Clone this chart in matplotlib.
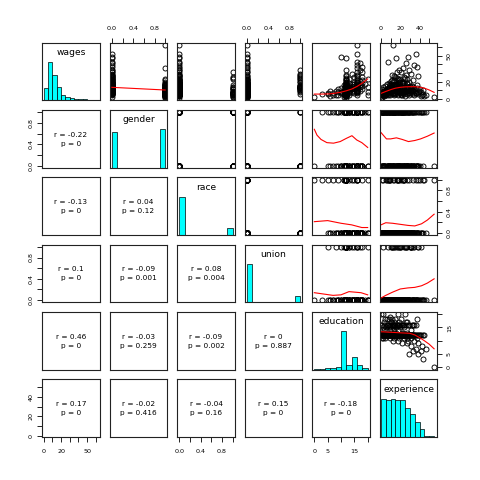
import numpy as np
import matplotlib
matplotlib.use("Agg")
import matplotlib.pyplot as plt

plt.rcParams['font.family'] = ['DejaVu Sans']

names = ["wages", "gender", "race", "union", "education", "experience"]

wages = [
    2.5, 6.0, 5.5, 7.0, 3.8, 8.5, 6.5, 4.2, 9.0, 5.0, 11.0, 7.5, 4.8, 8.0, 12.5, 48.0, 6.2,
    4.5, 7.8, 10.5, 6.0, 13.0, 5.5, 9.2, 15.5, 1.8, 8.8,
    1.0, 4.0, 5.5, 4.5, 6.0, 7.2, 3.8, 8.0, 5.0, 9.5, 6.8, 4.4, 7.5, 11.0,
    6.5, 8.2, 4.9, 10.5, 7.0, 12.0, 5.8, 9.0, 14.5, 6.3, 17.0, 8.6, 16.2, 7.7,
    9.5, 13.5, 6.8, 11.5, 8.5, 22.0, 7.2, 15.8, 10.0, 5.5, 28.0, 12.8, 4.6, 9.8,
    7.5, 12.2, 9.0, 16.5, 5.2, 13.8, 8.0, 19.5, 11.2, 6.6, 47.0, 10.8, 4.3, 14.2, 23.0,
    6.0, 10.2, 8.4, 14.0, 17.8, 7.3, 11.8, 5.9, 9.6, 24.0, 4.7, 12.5, 8.1, 16.0, 3.6, 19.0, 13.2,
    8.9, 12.7, 5.4, 18.5, 10.4, 7.6, 33.0, 9.2, 14.8, 6.4, 17.2, 4.1,
    9.9, 13.0, 7.1, 21.5, 5.6, 10.9, 8.3, 15.2, 4.9,
    6.9, 12.3, 26.5, 8.7, 11.6,
    7.9, 10.6, 3.4,
    6.5, 9.8, 12.0, 15.0, 8.4, 18.2, 11.3, 22.5, 4.6,
    10.8, 16.8, 7.4, 13.5, 28.5, 12.2,
    9.1, 14.4, 19.8, 11.9, 24.8, 6.8, 17.5,
    62.0, 8.2, 11.5, 13.7, 7.0, 8.9, 15.9, 12.6, 4.5, 43.0, 14.9, 18.9, 26.0, 9.4, 16.4,
    30.5, 13.1, 22.0, 7.8, 36.0, 17.9, 27.5, 14.1, 52.0, 19.2, 10.7, 38.5, 9.0, 23.6, 15.6,
    13.3, 20.5, 9.6, 33.5, 16.1, 41.0,
    14.6, 18.0, 25.5, 11.6, 31.5, 37.0, 21.8,
    17.0,
    4.9, 13.9, 23.2, 8.0,
]

experience = [
    55, 44, 38, 29, 41, 33, 36, 47, 31, 42, 27, 38, 22, 18, 34, 28, 12,
    2, 9, 24, 14, 31, 4, 19, 37, 1, 27,
    0, 1, 1, 2, 2, 3, 3, 3, 4, 4, 5, 5, 2, 1,
    6, 6, 7, 7, 8, 8, 9, 9, 10, 10, 6, 8, 9, 7,
    11, 11, 12, 12, 13, 13, 14, 14, 15, 15, 11, 12, 13, 14,
    16, 16, 17, 17, 18, 18, 19, 19, 20, 20, 16, 17, 18, 19, 20,
    21, 21, 22, 22, 23, 23, 24, 24, 25, 25, 21, 22, 23, 24, 25, 22, 24,
    26, 26, 27, 27, 28, 28, 29, 29, 30, 30, 27, 29,
    31, 31, 32, 33, 33, 34, 35, 32, 34,
    36, 37, 38, 39, 40,
    41, 43, 45,
    2, 7, 11, 16, 23, 22, 13, 27, 1,
    6, 18, 3, 9, 31, 14,
    5, 12, 20, 8, 24, 2, 16,
    12, 1, 3, 33, 0, 6, 19, 8, 9, 7, 11, 12, 13, 14, 15,
    17, 18, 19, 21, 23, 24, 26, 28, 36, 29, 32, 34, 22, 17, 10,
    27, 10, 3, 19, 13, 26,
    4, 8, 15, 6, 21, 37, 11,
    9,
    0, 2, 18, 25,
]

gender = [
    0, 1, 0, 1, 1, 0, 0, 1, 0, 1, 0, 1, 1, 0, 0, 0, 1,
    1, 0, 0, 1, 0, 0, 1, 0, 1, 1,
    1, 1, 0, 1, 0, 0, 1, 0, 1, 0, 1, 1, 0, 0,
    1, 0, 1, 0, 1, 0, 1, 0, 0, 1, 0, 1, 1, 0,
    1, 0, 1, 0, 1, 0, 1, 0, 1, 1, 0, 0, 1, 1,
    1, 0, 1, 0, 1, 0, 1, 0, 0, 1, 0, 1, 1, 0, 1,
    1, 0, 1, 0, 0, 1, 0, 1, 1, 0, 1, 0, 1, 0, 1, 1, 0,
    1, 0, 1, 0, 0, 1, 0, 1, 0, 1, 0, 1,
    1, 0, 1, 0, 1, 0, 1, 0, 1,
    1, 0, 0, 1, 0,
    1, 0, 1,
    1, 0, 1, 0, 1, 0, 1, 0, 1,
    1, 0, 1, 0, 0, 1,
    1, 0, 0, 1, 0, 1, 1,
    1, 1, 0, 1, 0, 1, 0, 1, 0, 0, 1, 0, 0, 1, 1,
    0, 1, 0, 1, 1, 1, 0, 1, 0, 0, 1, 0, 1, 0, 1,
    0, 0, 1, 0, 1, 0,
    1, 0, 0, 1, 0, 0, 1,
    1,
    1, 0, 0, 1,
]

race = [
    1, 1, 0, 1, 0, 0, 1, 0, 0, 0, 0, 1, 0, 0, 0, 0, 0,
    0, 1, 0, 0, 0, 0, 0, 0, 1, 0,
    0, 0, 0, 1, 0, 0, 0, 0, 0, 0, 1, 0, 0, 0,
    0, 0, 1, 0, 0, 0, 0, 0, 0, 0, 0, 1, 0, 0,
    0, 0, 0, 1, 0, 0, 0, 0, 0, 0, 0, 0, 1, 0,
    0, 0, 0, 0, 1, 0, 0, 0, 0, 0, 0, 0, 0, 1, 0,
    0, 0, 0, 0, 0, 1, 0, 0, 0, 0, 0, 0, 0, 1, 0, 0, 0,
    0, 0, 1, 0, 0, 0, 0, 0, 0, 0, 0, 0,
    0, 0, 0, 0, 1, 0, 0, 0, 0,
    0, 0, 0, 0, 1,
    0, 0, 1,
    0, 0, 0, 0, 1, 0, 0, 0, 0,
    0, 0, 0, 1, 0, 0,
    0, 0, 0, 0, 1, 0, 0,
    0, 0, 0, 0, 0, 0, 0, 1, 0, 0, 0, 0, 0, 0, 0,
    1, 0, 0, 1, 0, 0, 0, 0, 0, 0, 0, 0, 0, 1, 0,
    0, 0, 0, 0, 0, 0,
    0, 0, 0, 1, 0, 0, 0,
    0,
    0, 0, 1, 0,
]

union = [
    0, 0, 1, 0, 0, 0, 0, 0, 1, 0, 0, 0, 0, 0, 1, 0, 0,
    0, 0, 0, 0, 1, 0, 0, 0, 0, 0,
    0, 0, 0, 0, 0, 0, 0, 0, 0, 0, 0, 0, 0, 0,
    0, 0, 0, 1, 0, 0, 0, 0, 1, 0, 0, 0, 0, 0,
    0, 1, 0, 0, 0, 0, 0, 1, 0, 0, 0, 0, 0, 0,
    0, 0, 0, 1, 0, 0, 0, 0, 1, 0, 0, 0, 0, 0, 0,
    0, 1, 0, 0, 0, 0, 0, 0, 0, 1, 0, 0, 0, 0, 0, 0, 1,
    0, 1, 0, 0, 0, 0, 0, 0, 1, 0, 0, 0,
    0, 1, 0, 1, 0, 0, 0, 0, 0,
    0, 0, 1, 0, 0,
    1, 0, 0,
    0, 0, 1, 0, 0, 0, 0, 1, 0,
    0, 0, 0, 0, 1, 0,
    0, 0, 1, 0, 0, 0, 0,
    0, 0, 0, 0, 0, 0, 0, 0, 0, 0, 0, 1, 0, 0, 0,
    0, 1, 0, 0, 0, 0, 1, 0, 0, 0, 0, 0, 0, 0, 0,
    0, 0, 0, 1, 0, 0,
    0, 0, 1, 0, 0, 0, 0,
    0,
    0, 1, 0, 0,
]

education = [
    0, 3, 5, 5, 6, 6, 7, 7, 8, 8, 9, 9, 9, 10, 10, 10, 10,
    11, 11, 11, 11, 11, 11, 11, 11, 11, 11,
    12, 12, 12, 12, 12, 12, 12, 12, 12, 12, 12, 12, 12, 12,
    12, 12, 12, 12, 12, 12, 12, 12, 12, 12, 12, 12, 12, 12,
    12, 12, 12, 12, 12, 12, 12, 12, 12, 12, 12, 12, 12, 12,
    12, 12, 12, 12, 12, 12, 12, 12, 12, 12, 12, 12, 12, 12, 12,
    12, 12, 12, 12, 12, 12, 12, 12, 12, 12, 12, 12, 12, 12, 12, 12, 12,
    12, 12, 12, 12, 12, 12, 12, 12, 12, 12, 12, 12,
    12, 12, 12, 12, 12, 12, 12, 12, 12,
    12, 12, 12, 12, 12,
    12, 12, 12,
    13, 13, 13, 13, 13, 13, 13, 13, 13,
    14, 14, 14, 14, 14, 14,
    15, 15, 15, 15, 15, 15, 15,
    16, 16, 16, 16, 16, 16, 16, 16, 16, 16, 16, 16, 16, 16, 16,
    16, 16, 16, 16, 16, 16, 16, 16, 16, 16, 16, 16, 16, 16, 16,
    17, 17, 17, 17, 17, 17,
    18, 18, 18, 18, 18, 18, 18,
    19,
    20, 20, 20, 20,
]

# lower-panel statistics (row-major order over i>j)
r_values = [-0.22, -0.13, 0.04, 0.1, -0.09, 0.08, 0.46, -0.03, -0.09, 0,
            0.17, -0.02, -0.04, 0.15, -0.18]
p_values = [0, 0, 0.12, 0, 0.001, 0.004, 0, 0.259, 0.002, 0.887,
            0, 0.416, 0.16, 0, 0]

# smoothers (x = column variable, y = row variable)
smooth_wages_gender_x = [0, 1]
smooth_wages_gender_y = [13.3, 10.2]
smooth_wages_edu_x = [0, 3, 6, 8, 10, 12, 14, 16, 18, 20]
smooth_wages_edu_y = [5.5, 5.5, 5.8, 6.6, 7.7, 9.3, 11.3, 14.3, 18.2, 23.0]
smooth_wages_exp_x = [0, 5, 10, 15, 20, 25, 30, 35, 40, 45, 50, 55]
smooth_wages_exp_y = [6.3, 8.5, 10.6, 12.3, 13.3, 13.8, 14.0, 14.0, 13.5, 12.3, 10.2, 7.5]
smooth_gender_edu_x = [0, 1, 2.5, 4.7, 7.2, 9.7, 12, 14.1, 15.9, 17.8, 20]
smooth_gender_edu_y = [0.68, 0.57, 0.49, 0.43, 0.42, 0.45, 0.51, 0.56, 0.48, 0.43, 0.34]
smooth_gender_exp_x = [0, 5.7, 10, 16, 22, 28.5, 35, 41, 48, 55]
smooth_gender_exp_y = [0.62, 0.50, 0.50, 0.52, 0.49, 0.45, 0.47, 0.50, 0.55, 0.61]
smooth_race_edu_x = [0, 5, 10, 14, 17.8, 20]
smooth_race_edu_y = [0.21, 0.23, 0.18, 0.15, 0.10, 0.10]
smooth_race_exp_x = [0, 5, 12, 20, 28, 35, 42, 48, 55]
smooth_race_exp_y = [0.15, 0.19, 0.18, 0.16, 0.14, 0.13, 0.17, 0.24, 0.35]
smooth_union_edu_x = [0, 7, 10, 13, 17.5, 20]
smooth_union_edu_y = [0.14, 0.09, 0.10, 0.16, 0.14, 0.10]
smooth_union_exp_x = [0, 5, 12, 20, 28, 35, 42, 48, 55]
smooth_union_exp_y = [0.04, 0.09, 0.15, 0.21, 0.23, 0.24, 0.27, 0.32, 0.40]
smooth_edu_exp_x = [0, 10, 20, 30, 35, 40, 45, 50, 55]
smooth_edu_exp_y = [13.4, 13.2, 13.0, 12.8, 12.2, 11.2, 10.0, 8.7, 7.0]

smooths = {
    (0, 1): (smooth_wages_gender_x, smooth_wages_gender_y),
    (0, 4): (smooth_wages_edu_x, smooth_wages_edu_y),
    (0, 5): (smooth_wages_exp_x, smooth_wages_exp_y),
    (1, 4): (smooth_gender_edu_x, smooth_gender_edu_y),
    (1, 5): (smooth_gender_exp_x, smooth_gender_exp_y),
    (2, 4): (smooth_race_edu_x, smooth_race_edu_y),
    (2, 5): (smooth_race_exp_x, smooth_race_exp_y),
    (3, 4): (smooth_union_edu_x, smooth_union_edu_y),
    (3, 5): (smooth_union_exp_x, smooth_union_exp_y),
    (4, 5): (smooth_edu_exp_x, smooth_edu_exp_y),
}

data = {"wages": np.array(wages, float), "gender": np.array(gender, float),
        "race": np.array(race, float), "union": np.array(union, float),
        "education": np.array(education, float), "experience": np.array(experience, float)}
n = len(wages)
assert all(len(v) == n for v in data.values()), [len(v) for v in data.values()]

bin_lim = (-0.04, 1.04)
limits = {"wages": (-1.8, 64.7), "gender": bin_lim, "race": bin_lim, "union": bin_lim,
          "education": (-0.8, 20.8), "experience": (-1.3, 58.3)}
bin_ticks = [0, 0.2, 0.4, 0.6, 0.8, 1.0]
bin_labels = ["0.0", "", "0.4", "", "0.8", ""]
ticks = {"wages": ([0, 10, 20, 30, 40, 50, 60], ["0", "", "20", "", "", "50", ""]),
         "gender": (bin_ticks, bin_labels), "race": (bin_ticks, bin_labels),
         "union": (bin_ticks, bin_labels),
         "education": ([0, 5, 10, 15, 20], ["0", "5", "", "15", ""]),
         "experience": ([0, 10, 20, 30, 40, 50], ["0", "", "20", "", "40", ""])}
breaks = {"wages": np.arange(0, 66, 5), "gender": np.linspace(0, 1, 11),
          "race": np.linspace(0, 1, 11), "union": np.linspace(0, 1, 11),
          "education": np.arange(0, 21, 2), "experience": np.arange(0, 56, 5)}


def r_hist(x, br):
    counts = []
    for k in range(len(br) - 1):
        lo, hi = br[k], br[k + 1]
        if k == 0:
            c = np.sum((x >= lo - 1e-9) & (x <= hi + 1e-9))
        else:
            c = np.sum((x > lo + 1e-9) & (x <= hi + 1e-9))
        counts.append(c)
    return np.array(counts, float)


W = H = 480
fig = plt.figure(figsize=(4.8, 4.8), dpi=100)
left0, top0, px, py, size = 42.2, 42.8, 67.5, 67.3, 57.6
tick_kw = dict(length=3.4, width=0.6, labelsize=4.6, direction="out", color="black")

k_text = 0
for i in range(6):
    for j in range(6):
        l = left0 + j * px
        t = top0 + i * py
        ax = fig.add_axes([l / W, 1 - (t + size) / H, size / W, size / H])
        xn, yn = names[j], names[i]
        ax.set_xlim(limits[xn])
        if i == j:
            ax.set_ylim(0, 1.5)
        else:
            ax.set_ylim(limits[yn])
        ax.set_xticks([])
        ax.set_yticks([])
        for s in ax.spines.values():
            s.set_linewidth(0.8)
            s.set_color("#222222")
        if i == j:
            br = breaks[xn]
            c = r_hist(data[xn], br)
            hgt = c / c.max()
            ax.bar(br[:-1], hgt, width=np.diff(br), align="edge", color="cyan",
                   edgecolor="black", linewidth=0.5)
            ax.text(0.5, 0.83, xn, transform=ax.transAxes, ha="center", va="center",
                    fontsize=6.6)
        elif i < j:
            ax.plot(data[xn], data[yn], "o", ms=3.6, mfc="none", mec="black", mew=0.65)
            if (i, j) in smooths:
                sx, sy = smooths[(i, j)]
                ax.plot(sx, sy, color="red", lw=0.8)
        else:
            ax.text(0.5, 0.573, "r = %g" % r_values[k_text], transform=ax.transAxes,
                    ha="center", va="center", fontsize=5.3)
            ax.text(0.5, 0.417, "p = %g" % p_values[k_text], transform=ax.transAxes,
                    ha="center", va="center", fontsize=5.3)
            k_text += 1
        # outer axes, R pairs style
        if i == 0 and j % 2 == 1:
            tk, lb = ticks[xn]
            ax.set_xticks(tk)
            ax.set_xticklabels(lb)
            ax.tick_params(axis="x", top=True, labeltop=True, bottom=False,
                           labelbottom=False, pad=5.0, **tick_kw)
        if i == 5 and j % 2 == 0:
            tk, lb = ticks[xn]
            ax.set_xticks(tk)
            ax.set_xticklabels(lb)
            ax.tick_params(axis="x", bottom=True, labelbottom=True, pad=5.0, **tick_kw)
        if j == 0 and i % 2 == 1:
            tk, lb = ticks[yn]
            ax.set_yticks(tk)
            ax.set_yticklabels(lb, rotation=90, va="center")
            ax.tick_params(axis="y", left=True, labelleft=True, pad=3.0, **tick_kw)
        if j == 5 and i % 2 == 0:
            tk, lb = ticks[yn]
            ax.set_yticks(tk)
            ax.set_yticklabels(lb, rotation=90, va="center")
            ax.tick_params(axis="y", right=True, labelright=True, left=False,
                           labelleft=False, pad=3.5, **tick_kw)

fig.savefig("out.png", dpi=100, facecolor="white")
